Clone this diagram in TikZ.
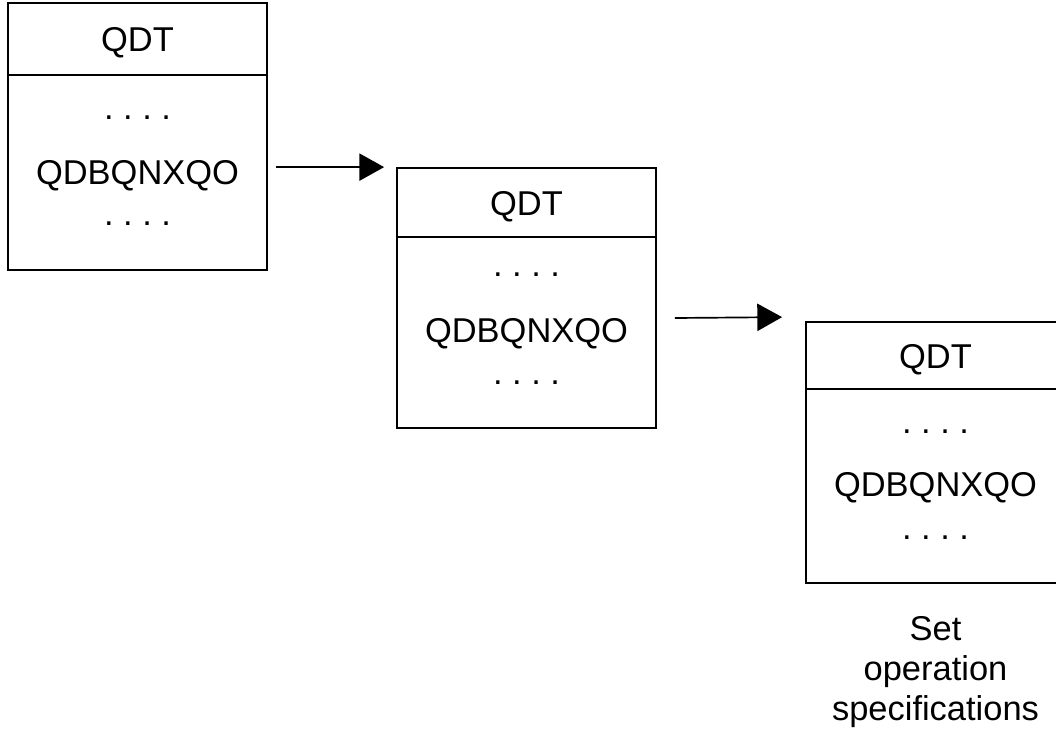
\documentclass[tikz,border=0pt]{standalone}
\usepackage{fontspec}
\setmainfont{Liberation Sans}
\usetikzlibrary{arrows.meta,calc}

\begin{document}
\begin{tikzpicture}
[x=0.025cm,y=-0.025cm,line width=1.2pt,%
  box/.style={draw,rectangle,inner sep=0pt,minimum width=6.475cm,minimum height=6.5cm},%
  txt/.style={inner sep=0pt,font=\fontsize{24.5}{28.5}\selectfont},%
  link/.style={-{Triangle[length=0.62cm,width=0.68cm]}}]
\useasboundingbox (0,0) rectangle (1056,737);
% first table
\node[box,minimum height=6.675cm] (qdt1) at (137.5,136.5) {};
\draw ($(qdt1.north west)+(0,73)$) -- ($(qdt1.north east)+(0,73)$);
\node[txt] (head1) at (137.5,43) {QDT};
\node[txt] (dotsa1) at (137.5,118) {.\ .\ .\ .};
\node[txt] (name1) at (137.5,176) {QDBQNXQO};
\node[txt] (dotsb1) at (137.5,224) {.\ .\ .\ .};
% second table
\node[box] (qdt2) at (526.5,298) {};
\draw ($(qdt2.north west)+(0,70)$) -- ($(qdt2.north east)+(0,70)$);
\node[txt] (head2) at (526.5,207) {QDT};
\node[txt] (dotsa2) at (526.5,275) {.\ .\ .\ .};
\node[txt] (name2) at (526.5,334) {QDBQNXQO};
\node[txt] (dotsb2) at (526.5,383) {.\ .\ .\ .};
% third table
\node[box,minimum height=6.525cm] (qdt3) at (935.5,452.5) {};
\draw ($(qdt3.north west)+(0,68)$) -- ($(qdt3.north east)+(0,68)$);
\node[txt] (head3) at (935.5,360) {QDT};
\node[txt] (dotsa3) at (935.5,432) {.\ .\ .\ .};
\node[txt] (name3) at (935.5,488) {QDBQNXQO};
\node[txt] (dotsb3) at (935.5,538) {.\ .\ .\ .};
\node[txt,align=center,anchor=north] (note) at ($(qdt3.south)+(0,32)$)
  {Set\\operation\\specifications};
% links
\coordinate (from1) at ($(qdt1.east)+(8,0)$);
\coordinate (from2) at ($(qdt2.east)+(18,0)$);
\draw[link] (from1 |- qdt2.north) -- ($(qdt2.north west)+(-12,0)$);
\draw[link] (from2 |- 0,318) -- ($(qdt3.north west)+(-23,-4)$);
\end{tikzpicture}
\end{document}
